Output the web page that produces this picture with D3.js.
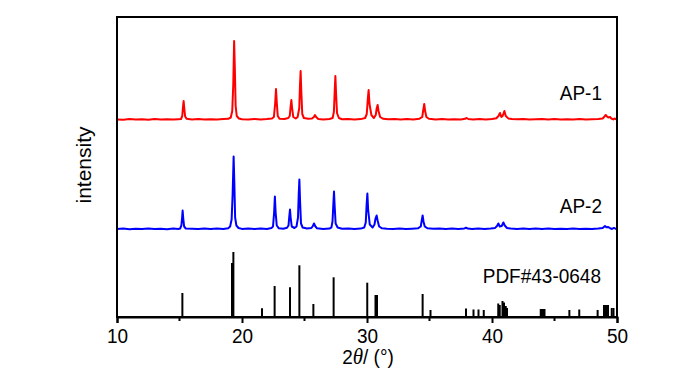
<!DOCTYPE html>
<meta charset="utf-8">
<head>
  <title>XRD patterns AP-1 / AP-2</title>
</head>

<style>
body {
  margin: 0;
  background: #fff;
}
text {
  font-family: Arial, "Liberation Sans", Helvetica, sans-serif;
  fill: #000;
}
</style>

<body>
  <svg width="700" height="374"></svg>

  <script src="https://cdnjs.cloudflare.com/ajax/libs/d3/7.8.5/d3.min.js"></script>

  <script>
  // [2theta, intensity above own baseline]
  var ap1 = [
    [10.0,0.6],[10.5,0.2],[11.0,0.9],[11.5,0.4],[12.0,0.8],[12.5,0.3],[13.0,1.0],[13.5,0.4],[14.0,0.7],[14.5,0.5],[14.9,0.8],
    [15.12,1.0],[15.22,4],[15.28,13],[15.33,19],[15.38,12],[15.45,3.5],[15.58,1.2],
    [16.0,0.6],[16.5,0.9],[17.0,0.4],[17.5,0.8],[18.0,0.5],[18.5,0.9],[18.9,1.2],
    [19.1,2.5],[19.22,9],[19.3,35],[19.37,79],[19.43,50],[19.49,14],[19.58,4],[19.75,1.5],
    [20.0,0.8],[20.5,0.4],[21.0,1.0],[21.5,0.6],[22.0,0.9],[22.4,1.5],
    [22.55,3],[22.65,16],[22.72,31],[22.78,18],[22.86,4],[23.0,1.2],
    [23.4,1.0],[23.7,2],
    [23.82,4],[23.9,15],[23.95,20],[24.0,13],[24.1,3],[24.3,1.5],[24.45,3],
    [24.58,12],[24.64,35],[24.69,49],[24.74,30],[24.82,6],[24.95,2],
    [25.3,1.2],[25.6,1.5],
    [25.75,3],[25.84,5],[25.93,3],[26.1,1],
    [26.5,0.6],[27.0,1.0],[27.25,2],
    [27.35,8],[27.42,30],[27.47,44],[27.52,28],[27.6,7],[27.75,2],
    [28.0,0.8],[28.5,1.0],[29.0,0.5],[29.5,0.9],[29.85,2],
    [29.98,6],[30.07,22],[30.13,30],[30.2,16],[30.35,5],[30.55,2],
    [30.7,5],[30.78,12],[30.85,15],[30.92,9],[31.05,3],[31.3,1.2],
    [31.7,0.7],[32.2,1.0],[32.7,0.5],[33.2,0.9],[33.7,0.6],[34.2,1.3],
    [34.42,3],[34.5,10],[34.58,16],[34.65,9],[34.75,3],[34.95,1.2],
    [35.5,0.6],[36.0,1.0],[36.5,0.5],[37.0,0.8],[37.5,0.6],[37.85,1.2],[37.97,2],[38.1,1.0],
    [38.5,0.5],[39.0,0.9],[39.5,0.6],[40.0,1.0],[40.35,1.8],
    [40.52,4],[40.64,7],[40.75,3],[40.85,4],[40.99,9],[41.1,4],[41.3,1.6],[41.6,1.0],
    [42.0,0.7],[42.5,1.0],[43.0,0.5],[43.5,0.8],[44.0,1.0],[44.5,0.6],[45.0,0.9],[45.5,0.5],
    [46.0,0.8],[46.5,0.6],[47.0,0.9],[47.5,0.5],[48.0,0.8],[48.5,1.0],[48.85,1.5],
    [49.0,3.5],[49.1,5],[49.2,3.5],[49.3,2.5],[49.44,3],[49.55,1.5],[49.7,0.6],[49.8,1.5],[49.9,1.0],[50.0,0.5]
  ];

  var ap2 = [
    [10.0,0.5],[10.5,0.9],[11.0,0.3],[11.5,0.8],[12.0,0.4],[12.5,1.0],[13.0,0.5],[13.5,0.8],[14.0,0.3],[14.5,0.9],[14.9,0.6],
    [15.05,1.0],[15.15,4],[15.21,12],[15.25,19],[15.3,11],[15.37,3],[15.5,1.0],
    [16.0,0.7],[16.5,0.4],[17.0,0.9],[17.5,0.5],[18.0,1.0],[18.5,0.6],[18.9,1.3],
    [19.05,3],[19.17,10],[19.25,35],[19.33,73],[19.39,45],[19.45,12],[19.55,4],[19.72,1.5],
    [20.0,0.6],[20.5,1.0],[21.0,0.5],[21.5,0.9],[22.0,0.6],[22.35,1.4],
    [22.48,3],[22.57,17],[22.63,33],[22.69,17],[22.78,4],[22.95,1.2],
    [23.3,0.8],[23.6,1.8],
    [23.72,4],[23.79,14],[23.84,20],[23.89,12],[23.98,3],[24.2,1.5],[24.36,3],
    [24.48,12],[24.54,36],[24.59,50],[24.64,30],[24.72,6],[24.85,2],
    [25.2,1.0],[25.55,1.5],
    [25.67,3.5],[25.76,6],[25.85,3.5],[26.0,1.2],
    [26.5,0.5],[27.0,0.9],[27.15,2],
    [27.24,8],[27.31,26],[27.36,38],[27.41,24],[27.49,6],[27.65,2],
    [28.0,0.7],[28.5,1.0],[29.0,0.4],[29.5,0.9],[29.78,2],
    [29.9,7],[29.97,25],[30.03,36],[30.09,20],[30.22,5],[30.45,2],
    [30.6,5],[30.68,11],[30.77,14],[30.85,9],[30.97,3],[31.2,1.2],
    [31.6,0.8],[32.1,0.5],[32.6,1.0],[33.1,0.4],[33.6,0.8],[34.1,1.3],
    [34.3,3],[34.38,9],[34.45,14],[34.52,8],[34.62,3],[34.85,1.2],
    [35.3,0.8],[35.8,1.0],[36.3,0.5],[36.8,0.9],[37.3,0.5],[37.8,1.1],[37.92,1.8],[38.05,0.9],
    [38.4,0.5],[38.9,1.0],[39.4,0.6],[39.9,0.9],[40.25,1.6],
    [40.4,3.5],[40.51,6],[40.62,3],[40.78,3.5],[40.91,7],[41.02,4],[41.2,1.5],[41.5,0.9],
    [42.0,0.6],[42.5,0.9],[43.0,0.4],[43.5,1.0],[44.0,0.6],[44.5,0.9],[45.0,0.4],[45.5,0.8],
    [46.0,0.5],[46.5,1.0],[47.0,0.6],[47.5,0.8],[48.0,0.4],[48.5,0.9],[48.85,1.4],
    [48.95,2.5],[49.04,3.5],[49.15,2.2],[49.3,2.5],[49.45,1.2],[49.6,0.5],[49.75,1.6],[49.88,0.8],[50.0,0.4]
  ];

  // PDF#43-0648 reference lines
  var pdfPos = [15.23, 19.2, 19.31, 21.6, 22.61, 23.84, 24.59, 25.71, 27.33, 30.02, 30.68, 30.8,
    34.45, 35.08, 37.92, 38.52, 38.92, 39.34, 40.5, 40.62, 40.84, 40.96, 41.1, 41.2,
    43.9, 44.0, 44.1, 44.2, 46.19, 46.98, 48.45, 48.96, 49.12, 49.28, 49.58, 49.72];
  var pdfInt = [24, 54, 65, 8.7, 31, 29.7, 51.7, 13, 39.7, 34.3, 22, 22,
    23, 7, 8.5, 7.5, 7.5, 7, 13.5, 12, 16, 14.5, 11, 9,
    8, 8, 8, 8, 7, 7.5, 7, 12, 12, 12, 9, 9];

  var seriesNames = ['AP-1', 'AP-2', 'PDF#43-0648'];
  var xTicks = [10, 20, 30, 40, 50];
  var xMinorTicks = [15, 25, 35, 45];

  var svg = d3.select('svg');
  var plotL = 117, plotR = 617, plotT = 17, plotB = 317;

  var x = d3.scaleLinear().domain([10, 50]).range([plotL, plotR]);
  var y = d3.scaleLinear().domain([0, 300]).range([plotB, plotT]);

  var offsets = [197, 87.5];
  var colors = ['#ff0000', '#0000ff'];

  svg.append('clipPath').attr('id', 'clip')
    .append('rect')
    .attr('x', plotL).attr('y', plotT)
    .attr('width', plotR - plotL).attr('height', plotB - plotT);

  var plot = svg.append('g').attr('clip-path', 'url(#clip)');

  [ap1, ap2].forEach(function(data, i) {
    var line = d3.line()
      .x(function(d) { return x(d[0]); })
      .y(function(d) { return y(d[1] + offsets[i]); });
    plot.append('path')
      .datum(data)
      .attr('d', line)
      .attr('fill', 'none')
      .attr('stroke', colors[i])
      .attr('stroke-width', 2)
      .attr('stroke-linejoin', 'round');
  });

  plot.selectAll('line.stick')
    .data(d3.zip(pdfPos, pdfInt))
    .enter()
    .append('line')
    .attr('class', 'stick')
    .attr('x1', function(d) { return x(d[0]); })
    .attr('x2', function(d) { return x(d[0]); })
    .attr('y1', y(0))
    .attr('y2', function(d) { return y(d[1]); })
    .attr('stroke', '#000')
    .attr('stroke-width', 2);

  // frame
  svg.append('rect')
    .attr('x', plotL).attr('y', plotT)
    .attr('width', plotR - plotL).attr('height', plotB - plotT)
    .attr('fill', 'none')
    .attr('stroke', '#000')
    .attr('stroke-width', 2);

  // x axis
  var axis = svg.append('g')
    .attr('transform', 'translate(0,' + plotB + ')')
    .call(d3.axisBottom(x).tickValues(xTicks).tickSize(6).tickFormat(d3.format('d')));
  axis.select('.domain').attr('stroke-width', 2);
  axis.selectAll('.tick line').attr('stroke-width', 2);
  axis.selectAll('.tick text')
    .attr('font-size', 19)
    .attr('font-family', 'Arial, "Liberation Sans", sans-serif')
    .attr('y', 23.6)
    .attr('dy', 0)
    .attr('transform', 'scale(1,1.1)');

  svg.append('g')
    .selectAll('line')
    .data(xMinorTicks)
    .enter()
    .append('line')
    .attr('x1', function(d) { return x(d); })
    .attr('x2', function(d) { return x(d); })
    .attr('y1', plotB)
    .attr('y2', plotB + 4)
    .attr('stroke', '#000')
    .attr('stroke-width', 2);

  // labels
  function label(txt, px, py, anchor) {
    return svg.append('text')
      .attr('transform', 'translate(' + px + ',' + py + ') scale(1,1.1)')
      .attr('text-anchor', anchor)
      .attr('font-size', 19)
      .text(txt);
  }
  label(seriesNames[0], 602, 100, 'end');
  label(seriesNames[1], 602, 213, 'end');
  label(seriesNames[2], 601, 283, 'end');

  var xt = label('', 368, 364, 'middle');
  xt.append('tspan').text('2');
  xt.append('tspan')
    .attr('font-style', 'italic')
    .attr('font-family', '"Liberation Serif", "DejaVu Serif", serif')
    .attr('font-size', 21)
    .text('θ');
  xt.append('tspan').text('/ (°)');

  svg.append('text')
    .attr('transform', 'translate(91,165) rotate(-90)')
    .attr('text-anchor', 'middle')
    .attr('font-size', 21)
    .text('intensity');
  </script>
</body>
</html>
